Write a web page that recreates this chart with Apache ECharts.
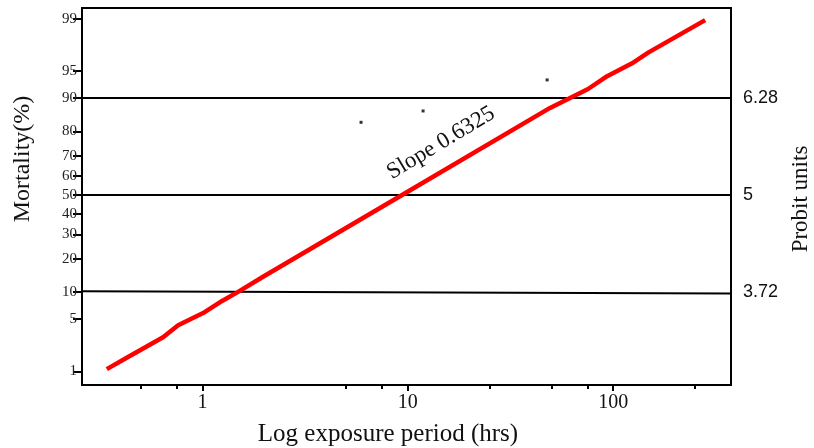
<!DOCTYPE html>
<html>
<head>
<meta charset="utf-8">
<script src="https://cdn.jsdelivr.net/npm/echarts@6/dist/echarts.min.js"></script>
<style>html,body{margin:0;padding:0;background:#fff;}#c{width:814px;height:448px;}</style>
</head>
<body>
<div id="c"></div>
<script>
// exposure time (hrs) and probit values of the fitted line
const lineHours = [0.342, 0.434, 0.643, 0.761, 1.007, 1.246, 1.491, 1.973, 9.38, 49.3, 75.5, 93.5, 123.7, 148.1, 280.6];
const lineProbit = [2.70, 2.86, 3.12, 3.28, 3.44, 3.60, 3.72, 3.92, 5.00, 6.15, 6.40, 6.57, 6.74, 6.88, 7.31];
// small observed points
const dotHours = [5.92, 11.87, 47.7];
const dotProbit = [5.96, 6.11, 6.52];
// reference probit levels (90%, 50%, 10%)
const refLeftProbit = [6.28, 5.00, 3.73];
const refRightProbit = [6.28, 5.00, 3.70];
// left axis: mortality % labels and their probit positions
const mortalityLabels = ['1', '5', '10', '20', '30', '40', '50', '60', '70', '80', '90', '95', '99'];
const mortalityProbit = [2.67, 3.36, 3.72, 4.16, 4.48, 4.75, 5.00, 5.25, 5.52, 5.84, 6.28, 6.64, 7.33];
// right axis probit labels
const probitLabels = [3.72, 5, 6.28];
// x axis ticks
const xMajor = [1, 10, 100];
const xMinor = [0.5, 0.75, 5, 7.5, 25, 50, 75, 250];

const X_MIN = 0.259, X_MAX = 375, Y_MIN = 2.49, Y_MAX = 7.47;
const serif = '"Liberation Serif","Times New Roman",serif';
const sans = '"Liberation Sans",Arial,sans-serif';

const chart = echarts.init(document.getElementById('c'), null, {renderer: 'canvas'});
const refSeries = refLeftProbit.map((p, i) => ({
  type: 'line', xAxisIndex: 0, yAxisIndex: 0, symbol: 'none', silent: true,
  lineStyle: {color: '#000', width: 2}, z: 3,
  data: [[X_MIN, p], [X_MAX, refRightProbit[i]]]
}));

chart.setOption({
  animation: false,
  backgroundColor: '#fff',
  grid: {left: 82, right: 83, top: 8, bottom: 63, show: true, borderColor: '#000', borderWidth: 2},
  xAxis: [{
    type: 'log', min: X_MIN, max: X_MAX, position: 'bottom',
    axisLine: {show: true, lineStyle: {color: '#000', width: 2}},
    axisTick: {show: true, customValues: xMajor, length: 6, lineStyle: {color: '#000', width: 2}},
    axisLabel: {customValues: xMajor, fontFamily: serif, fontSize: 20, color: '#111', margin: 8},
    splitLine: {show: false}, minorTick: {show: false}
  }, {
    type: 'log', min: X_MIN, max: X_MAX, position: 'bottom',
    axisLine: {show: false},
    axisTick: {show: true, customValues: xMinor, length: 4, lineStyle: {color: '#000', width: 2}},
    axisLabel: {show: false},
    splitLine: {show: false}
  }],
  yAxis: [{
    type: 'value', min: Y_MIN, max: Y_MAX, position: 'left',
    axisLine: {show: true, lineStyle: {color: '#000', width: 2}},
    axisTick: {show: true, customValues: mortalityProbit, length: 9, lineStyle: {color: '#000', width: 2}},
    axisLabel: {
      customValues: mortalityProbit, fontFamily: serif, fontSize: 15, color: '#222', margin: 5,
      formatter: v => { const i = mortalityProbit.findIndex(p => Math.abs(p - v) < 1e-6); return i >= 0 ? mortalityLabels[i] : ''; }
    },
    splitLine: {show: false}
  }, {
    type: 'value', min: Y_MIN, max: Y_MAX, position: 'right',
    axisLine: {show: true, lineStyle: {color: '#000', width: 2}},
    axisTick: {show: false},
    axisLabel: {customValues: probitLabels, fontFamily: sans, fontSize: 18, color: '#111', margin: 12,
      formatter: v => String(v)},
    splitLine: {show: false}
  }],
  series: refSeries.concat([{
    type: 'line', xAxisIndex: 0, yAxisIndex: 0, symbol: 'none', z: 5,
    lineStyle: {color: '#ff0000', width: 4.5},
    data: lineHours.map((h, i) => [h, lineProbit[i]])
  }, {
    type: 'scatter', xAxisIndex: 0, yAxisIndex: 0, symbol: 'rect', symbolSize: [3, 3], z: 4,
    itemStyle: {color: '#000'},
    data: dotHours.map((h, i) => [h, dotProbit[i]])
  }]),
  graphic: [
    {type: 'text', x: 23, y: 159, rotation: Math.PI / 2,
      style: {text: 'Mortality(%)', font: '24px ' + serif, fill: '#111', align: 'center', verticalAlign: 'middle'}},
    {type: 'text', x: 801, y: 199, rotation: Math.PI / 2,
      style: {text: 'Probit units', font: '23px ' + serif, fill: '#111', align: 'center', verticalAlign: 'middle'}},
    {type: 'text', x: 388, y: 434,
      style: {text: 'Log exposure period (hrs)', font: '25px ' + serif, fill: '#111', align: 'center', verticalAlign: 'middle'}},
    {type: 'text', x: 441, y: 143, rotation: 31 * Math.PI / 180,
      style: {text: 'Slope 0.6325', font: '23px ' + serif, fill: '#111', align: 'center', verticalAlign: 'middle'}}
  ]
});
</script>
</body>
</html>
